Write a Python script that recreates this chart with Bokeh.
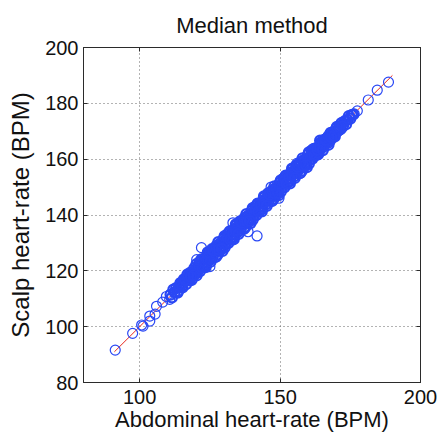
from bokeh.plotting import figure
from bokeh.models import LinearAxis, FixedTicker
from bokeh.embed import file_html
from bokeh.resources import INLINE

# Abdominal (x) vs scalp (y) heart-rate, BPM
# dense central cloud
band_abdominal = [
    111.0, 111.5, 112.0, 112.5, 113.0, 113.5, 114.0, 114.5, 115.0, 115.5,
    116.0, 116.5, 117.0, 117.5, 118.0, 118.5, 119.0, 119.5, 120.0, 120.5,
    121.0, 121.5, 122.0, 122.5, 123.0, 123.5, 124.0, 124.5, 125.0, 125.5,
    126.0, 126.5, 127.0, 127.5, 128.0, 128.5, 129.0, 129.5, 130.0, 130.5,
    131.0, 131.5, 132.0, 132.5, 133.0, 133.5, 134.0, 134.5, 135.0, 135.5,
    136.0, 136.5, 137.0, 137.5, 138.0, 138.5, 139.0, 139.5, 140.0, 140.5,
    141.0, 141.5, 142.0, 142.5, 143.0, 143.5, 144.0, 144.5, 145.0, 145.5,
    146.0, 146.5, 147.0, 147.5, 148.0, 148.5, 149.0, 149.5, 150.0, 150.5,
    151.0, 151.5, 152.0, 152.5, 153.0, 153.5, 154.0, 154.5, 155.0, 155.5,
    156.0, 156.5, 157.0, 157.5, 158.0, 158.5, 159.0, 159.5, 160.0, 160.5,
    161.0, 161.5, 162.0, 162.5, 163.0, 163.5, 164.0, 164.5, 165.0, 165.5,
    166.0, 166.5, 167.0, 167.5, 168.0, 168.5, 169.0, 169.5, 170.0, 170.5,
    171.0, 171.5, 172.0, 172.5, 173.0, 173.5, 174.0, 174.5, 175.0, 175.5, 176.0,
    118.25, 119.25, 120.25, 121.25, 122.25, 123.25, 124.25, 125.25, 126.25, 127.25,
    128.25, 129.25, 130.25, 131.25, 132.25, 133.25, 134.25, 135.25, 136.25, 137.25,
    138.25, 139.25, 140.25, 141.25, 142.25, 143.25, 144.25, 145.25, 146.25, 147.25,
    148.25, 149.25, 150.25, 151.25, 152.25, 153.25, 154.25, 155.25, 156.25, 157.25,
    158.25, 159.25, 160.25, 161.25, 162.25, 163.25, 164.25, 165.25, 166.25, 167.25,
    113.75, 114.75, 115.75, 116.75, 117.75, 118.75, 119.75, 120.75, 121.75, 122.75,
    123.75, 124.75, 125.75, 126.75, 127.75, 128.75, 129.75, 130.75, 131.75, 132.75,
    133.75, 134.75, 135.75, 136.75, 137.75, 138.75, 139.75, 140.75, 141.75, 142.75,
    143.75, 144.75, 145.75, 146.75, 147.75, 148.75, 149.75, 150.75, 151.75, 152.75,
    153.75, 154.75, 155.75, 156.75, 157.75, 158.75, 159.75, 160.75, 161.75, 162.75,
    163.75, 164.75, 165.75, 166.75, 167.75, 168.75, 169.75, 170.75, 171.75,
    114.25, 115.25, 116.25, 117.25, 118.25, 119.25, 120.25, 121.25, 122.25, 123.25,
    124.25, 125.25, 126.25, 127.25, 128.25, 129.25, 130.25, 131.25, 132.25, 133.25,
    134.25, 135.25, 136.25, 137.25, 138.25, 139.25, 140.25, 141.25, 142.25, 143.25,
    144.25, 145.25, 146.25, 147.25, 148.25, 149.25, 150.25, 151.25, 152.25, 153.25,
    154.25, 155.25, 156.25, 157.25, 158.25, 159.25, 160.25, 161.25, 162.25, 163.25,
    164.25, 165.25, 166.25, 167.25, 168.25, 169.25, 170.25, 171.25, 172.25,
]
band_scalp = [
    111.5, 110.5, 113.3, 112.3, 113.8, 112.2, 114.1, 115.6, 114.3, 115.8,
    116.6, 115.2, 118.7, 117.2, 119.0, 116.7, 119.2, 121.0, 119.1, 120.9,
    121.8, 119.9, 124.1, 121.6, 124.3, 121.3, 124.2, 126.4, 123.9, 126.0,
    125.1, 127.9, 125.0, 128.1, 130.3, 127.2, 129.0, 127.1, 131.6, 129.9,
    131.8, 129.9, 134.1, 131.6, 134.3, 131.3, 134.2, 136.4, 133.9, 136.0,
    135.1, 137.9, 135.0, 138.1, 140.3, 137.2, 139.0, 137.1, 141.6, 139.9,
    141.8, 139.9, 144.1, 141.6, 144.3, 141.3, 144.2, 146.4, 143.9, 146.0,
    145.1, 147.9, 145.0, 148.1, 150.3, 147.2, 149.0, 147.1, 151.6, 149.9,
    151.8, 149.9, 154.1, 151.6, 154.3, 151.3, 154.2, 156.4, 153.9, 156.0,
    155.1, 157.9, 155.0, 158.1, 160.3, 157.2, 159.0, 157.1, 161.6, 159.9,
    161.6, 160.2, 163.7, 162.2, 164.0, 161.7, 164.2, 166.0, 164.1, 165.9,
    165.5, 167.3, 165.8, 167.9, 169.4, 167.7, 169.0, 168.1, 171.0, 170.1,
    171.4, 170.7, 173.0, 172.3, 173.6, 172.5, 174.1, 175.4, 174.5, 175.8, 176.0,
    119.45, 118.55, 118.35, 123.05, 122.55, 122.05, 126.65, 125.05, 127.15, 125.15,
    129.45, 128.55, 128.35, 133.05, 132.55, 132.05, 136.65, 135.05, 137.15, 135.15,
    139.45, 138.55, 138.35, 143.05, 142.55, 142.05, 146.65, 145.05, 147.15, 145.15,
    149.45, 148.55, 148.35, 153.05, 152.55, 152.05, 156.65, 155.05, 157.15, 155.15,
    159.45, 158.55, 158.35, 163.05, 162.55, 162.05, 166.65, 165.05, 167.15, 165.15,
    112.85, 115.25, 116.95, 116.55, 116.65, 119.45, 119.95, 119.95, 123.45, 121.55,
    122.25, 125.65, 127.75, 126.45, 125.85, 129.85, 130.15, 129.95, 133.45, 131.55,
    132.25, 135.65, 137.75, 136.45, 135.85, 139.85, 140.15, 139.95, 143.45, 141.55,
    142.25, 145.65, 147.75, 146.45, 145.85, 149.85, 150.15, 149.95, 153.45, 151.55,
    152.25, 155.65, 157.75, 156.45, 155.85, 159.85, 160.15, 159.95, 163.45, 161.55,
    162.25, 165.65, 166.95, 166.55, 166.65, 169.45, 169.95, 170.25, 172.75,
    114.45, 114.05, 116.85, 118.25, 117.85, 118.45, 122.45, 121.95, 121.25, 123.35,
    124.55, 123.25, 127.25, 128.85, 127.65, 127.85, 132.45, 131.95, 131.25, 133.35,
    134.55, 133.25, 137.25, 138.85, 137.65, 137.85, 142.45, 141.95, 141.25, 143.35,
    144.55, 143.25, 147.25, 148.85, 147.65, 147.85, 152.45, 151.95, 151.25, 153.35,
    154.55, 153.25, 157.25, 158.85, 157.65, 157.85, 162.45, 161.95, 161.25, 163.35,
    164.55, 163.25, 166.85, 168.25, 167.85, 168.45, 171.55, 171.65, 171.65,
]
# sparse points at the ends and off the line
sparse_abdominal = [
    91.3, 97.5, 100.7, 101.2, 103.6, 103.6, 105.5, 106.0, 108.2, 110.7, 109.5,
    122.0, 120.3, 125.0, 133.2, 138.6, 141.8, 156.0, 146.8, 149.6,
    176.4, 177.5, 181.4, 184.6, 188.6,
]
sparse_scalp = [
    91.6, 97.6, 100.6, 100.2, 102.0, 103.8, 104.5, 107.3, 108.8, 109.8, 110.8,
    128.3, 124.0, 121.5, 137.2, 134.0, 132.5, 158.5, 150.0, 146.0,
    176.2, 177.3, 181.2, 184.7, 187.6,
]

# fitted line endpoints
fit_x = [91.0, 190.0]
fit_y = [91.0, 190.0]

x_ticks = [100, 150, 200]
y_ticks = [80, 100, 120, 140, 160, 180, 200]

FONT = "Liberation Sans"
DARK = "#2b2b2b"
TXT = "#111111"
BLUE = "#2a48f5"

p = figure(width=440, height=434, x_range=(80, 200), y_range=(80, 200),
           output_backend="svg", toolbar_location=None,
           title="Median method",
           min_border_left=83, min_border_right=20,
           min_border_top=46, min_border_bottom=50)

p.title.align = "center"
p.title.text_font = FONT
p.title.text_font_size = "22px"
p.title.text_font_style = "normal"
p.title.text_color = TXT
p.title.standoff = 20

p.outline_line_color = DARK
p.outline_line_width = 1
p.background_fill_color = "white"
p.border_fill_color = "white"

for ax, ticks in ((p.xaxis[0], x_ticks), (p.yaxis[0], y_ticks)):
    ax.ticker = FixedTicker(ticks=ticks)
    ax.major_tick_in = 4
    ax.major_tick_out = 0
    ax.minor_tick_line_color = None
    ax.axis_line_color = DARK
    ax.major_tick_line_color = DARK
    ax.major_label_text_font = FONT
    ax.major_label_text_font_size = "20px"
    ax.major_label_text_color = TXT
    ax.axis_label_text_font = FONT
    ax.axis_label_text_font_style = "normal"
    ax.axis_label_text_color = TXT

p.xaxis.axis_label = "Abdominal heart-rate (BPM)"
p.yaxis.axis_label = "Scalp heart-rate (BPM)"
p.xaxis.axis_label_text_font_size = "22px"
p.yaxis.axis_label_text_font_size = "24px"
p.xaxis.major_label_standoff = 7
p.xaxis.axis_label_standoff = 0
p.yaxis.major_label_standoff = 5
p.yaxis.axis_label_standoff = 8

for loc, ticks in (("right", y_ticks), ("above", x_ticks)):
    ax = LinearAxis(ticker=FixedTicker(ticks=ticks), major_label_text_color=None,
                    major_label_text_font_size="2px",
                    major_tick_in=4, major_tick_out=0, minor_tick_line_color=None,
                    axis_line_color=DARK, major_tick_line_color=DARK,
                    major_label_standoff=0)
    p.add_layout(ax, loc)

p.xgrid.ticker = FixedTicker(ticks=x_ticks)
p.ygrid.ticker = FixedTicker(ticks=y_ticks)
for g in (p.xgrid[0], p.ygrid[0]):
    g.grid_line_color = "#666666"
    g.grid_line_dash = "1 3"
    g.grid_line_width = 1

p.line(fit_x, fit_y, line_color="#e8281e", line_width=1)
p.scatter(band_abdominal, band_scalp, marker="circle", size=10, fill_color=None,
          line_color=BLUE, line_width=2.2)
p.scatter(sparse_abdominal, sparse_scalp, marker="circle", size=10, fill_color=None,
          line_color=BLUE, line_width=1.2)

open("out.html", "w").write(file_html(p, INLINE))
